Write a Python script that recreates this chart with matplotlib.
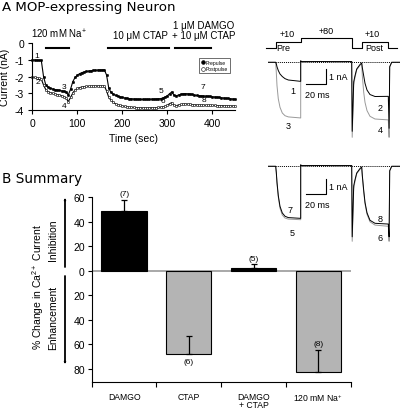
import numpy as np
import matplotlib as mpl
mpl.use("Agg")
import matplotlib.pyplot as plt

plt.rcParams["font.family"] = ["Liberation Sans", "DejaVu Sans"]
plt.rcParams["mathtext.fontset"] = "custom"
plt.rcParams["mathtext.rm"] = "Liberation Sans"
plt.rcParams["mathtext.it"] = "Liberation Sans"
plt.rcParams["mathtext.default"] = "regular"
plt.rcParams["axes.unicode_minus"] = False

# ---------------- data: panel A time course (every 5 s) ----------------
time_s = np.arange(0, 451, 5)
prepulse = [
    -1.00, -1.00, -1.01, -1.02, -1.03, -2.00, -2.50, -2.62, -2.70, -2.74,
    -2.78, -2.80, -2.83, -2.85, -2.88, -2.92, -3.10, -2.75, -2.30, -2.05,
    -1.92, -1.82, -1.76, -1.72, -1.69, -1.67, -1.65, -1.63, -1.62, -1.61,
    -1.60, -1.60, -1.59, -1.90, -2.70, -2.95, -3.05, -3.12, -3.17, -3.21,
    -3.25, -3.28, -3.30, -3.32, -3.33, -3.34, -3.35, -3.36, -3.36, -3.36,
    -3.36, -3.36, -3.36, -3.35, -3.35, -3.34, -3.33, -3.32, -3.28, -3.22,
    -3.15, -3.02, -2.92, -3.12, -3.15, -3.10, -3.06, -3.03, -3.02, -3.03,
    -3.04, -3.07, -3.11, -3.13, -3.14, -3.15, -3.16, -3.17, -3.18, -3.19,
    -3.21, -3.22, -3.23, -3.25, -3.27, -3.28, -3.30, -3.31, -3.33, -3.34,
    -3.35]
postpulse = [
    -2.04, -2.05, -2.08, -2.11, -2.15, -2.50, -2.78, -2.90, -2.96, -3.00,
    -3.04, -3.08, -3.11, -3.15, -3.20, -3.28, -3.50, -3.25, -2.98, -2.80,
    -2.71, -2.66, -2.62, -2.60, -2.59, -2.58, -2.57, -2.57, -2.56, -2.56,
    -2.56, -2.56, -2.56, -2.85, -3.25, -3.42, -3.55, -3.63, -3.69, -3.73,
    -3.76, -3.79, -3.81, -3.83, -3.84, -3.85, -3.86, -3.87, -3.87, -3.88,
    -3.88, -3.88, -3.88, -3.87, -3.87, -3.86, -3.85, -3.84, -3.81, -3.77,
    -3.72, -3.62, -3.56, -3.72, -3.74, -3.70, -3.67, -3.65, -3.64, -3.65,
    -3.66, -3.68, -3.69, -3.70, -3.70, -3.71, -3.71, -3.72, -3.72, -3.72,
    -3.73, -3.73, -3.74, -3.74, -3.74, -3.75, -3.75, -3.75, -3.76, -3.76,
    -3.76]

# drug application bars (sec)
drug_labels = ["120 mM Na$^{+}$", "10 μM CTAP", "1 μM DAMGO\n+ 10 μM CTAP"]
drug_start = [30, 168, 318]
drug_end = [82, 304, 397]
drug_text_x = [60, 240, 380]

# point labels on the time course (sec, nA)
tc_lab = ["1", "2", "3", "4", "5", "6", "7", "8"]
tc_lab_t = [10, 12, 70, 70, 287, 290, 380, 381]
tc_lab_i = [-0.75, -2.3, -2.6, -3.75, -2.84, -3.44, -2.6, -3.38]

# ---------------- data: voltage protocol and current traces ----------------
proto_t = [-9.7, 0, 0, 25, 25, 76, 76, 86, 86, 112.6, 112.6, 121]
proto_v = [-80, -80, 10, 10, 80, 80, -80, -80, 10, 10, -80, -80]

tr_t = [-7.7, 0, 0.6, 1.3, 2.6, 4.3, 6.6, 9.3, 12.6, 25, 25, 25.5, 76, 76.5,
        78, 79.3, 81, 84.3, 86, 86.6, 88, 89.3, 91.3, 94.3, 99.3, 112.6,
        113.4, 114, 116, 124.3]
tr1_2 = [0, 0, -0.1, -0.3, -0.55, -0.78, -0.95, -1.09, -1.18, -1.27, 0.1, 0.05,
         0.05, -4.6, -1.3, -0.9, -0.45, -0.15, -0.05, -0.35, -0.9, -1.4, -1.85,
         -2.15, -2.28, -2.27, -4.4, -0.3, 0, 0]
tr3_4 = [0, 0, -0.67, -1.56, -2.44, -3.0, -3.38, -3.56, -3.64, -3.71, 0.1, 0.05,
         0.05, -5.0, -1.5, -1.0, -0.5, -0.2, -0.05, -0.89, -2.0, -2.67, -3.22,
         -3.6, -3.78, -3.84, -5.0, -0.3, 0, 0]
tr7_8 = [0, 0, -0.4, -1.07, -1.96, -2.67, -3.11, -3.33, -3.42, -3.47, 0.1, 0.05,
         0.05, -4.7, -1.3, -0.9, -0.45, -0.15, -0.05, -0.6, -1.6, -2.4, -3.1,
         -3.6, -3.8, -3.85, -4.7, -0.3, 0, 0]
tr5_6 = [0, 0, -0.45, -1.15, -2.05, -2.8, -3.25, -3.45, -3.52, -3.56, 0.1, 0.05,
         0.05, -5.0, -1.5, -1.0, -0.5, -0.2, -0.05, -0.65, -1.7, -2.5, -3.2,
         -3.7, -3.92, -4.0, -5.0, -0.3, 0, 0]

top_lab = ["1", "3", "2", "4"]
top_lab_t = [17.6, 12.6, 104.3, 104.3]
top_lab_i = [-1.89, -4.23, -3.0, -4.45]
bot_lab = ["7", "5", "8", "6"]
bot_lab_t = [14.3, 16, 104.3, 104.3]
bot_lab_i = [-2.85, -4.4, -3.51, -4.78]

# ---------------- data: panel B summary ----------------
groups = ["DAMGO", "CTAP", "DAMGO\n+ CTAP", "120 mM Na$^{+}$"]
change = [48.5, -68, 2, -83]
err = [9, 14.5, 3, 18]
n_cells = ["(7)", "(6)", "(5)", "(8)"]
bar_colors = ["black", "#b4b4b4", "black", "#b4b4b4"]

GRAY = "#9a9a9a"
W, H = 400, 410


def frac(x0, y0, x1, y1):
    """pixel box (top-left origin) -> figure fraction rect"""
    return [x0 / W, 1 - y1 / H, (x1 - x0) / W, (y1 - y0) / H]


fig = plt.figure(figsize=(W / 100, H / 100), dpi=100)

# ---------------- panel B: summary bars (drawn first, under the traces) ----
axb = fig.add_axes(frac(91.7, 198, 350.7, 383))
axb.patch.set_visible(False)
xpos = np.arange(len(groups))
axb.axhline(0, color="#999999", lw=1.2, zorder=1)
axb.bar(xpos, change, width=0.7, color=bar_colors, edgecolor="black",
        linewidth=0.8, zorder=2)
axb.errorbar(xpos, change, yerr=[np.zeros(len(err)), err], fmt="none",
             ecolor="black", elinewidth=0.9, capsize=2.2, capthick=0.9,
             zorder=3)
axb.set_xlim(-0.5, 3.5)
axb.set_ylim(-91, 60)
yt = [60, 40, 20, 0, -20, -40, -60, -80]
axb.set_yticks(yt)
axb.set_yticklabels([str(abs(v)) for v in yt])
axb.set_xticks(np.arange(-0.5, 4, 1.0))
axb.set_xticklabels([])
axb.set_xticks(xpos, groups, minor=True)
axb.tick_params(axis="x", which="minor", length=0, pad=7, labelsize=6.2)
axb.tick_params(axis="x", which="major", length=3.5, width=0.8)
axb.tick_params(axis="y", labelsize=7.5, length=3, width=0.8, pad=2)
for lab in axb.get_xticklabels(minor=True):
    lab.set_linespacing(0.85)
for s in ["top", "right"]:
    axb.spines[s].set_visible(False)
for s in ["left", "bottom"]:
    axb.spines[s].set_linewidth(0.8)

for i, (v, e, nl) in enumerate(zip(change, err, n_cells)):
    if i == 1:
        axb.annotate(nl, (i, v), xytext=(0, -3), textcoords="offset points",
                     ha="center", va="top", fontsize=6)
    else:
        axb.annotate(nl, (i, v + e), xytext=(0, 2), textcoords="offset points",
                     ha="center", va="bottom", fontsize=6)

fig.text(38 / W, 1 - 287 / H, "% Change in Ca$^{2+}$ Current", rotation=90,
         ha="center", va="center", fontsize=7.5)
fig.text(53 / W, 1 - 240 / H, "Inhibition", rotation=90, ha="center",
         va="center", fontsize=7.5)
fig.text(53 / W, 1 - 318 / H, "Enhancement", rotation=90, ha="center",
         va="center", fontsize=7.5)
arrow = dict(arrowstyle="-|>,head_length=0.7,head_width=0.25", color="black",
             lw=1.3, shrinkA=0, shrinkB=0)
fig.add_artist(mpl.patches.FancyArrowPatch((65 / W, 1 - 268 / H),
                                           (65 / W, 1 - 198 / H),
                                           transform=fig.transFigure, **arrow))
fig.add_artist(mpl.patches.FancyArrowPatch((65 / W, 1 - 277 / H),
                                           (65 / W, 1 - 366 / H),
                                           transform=fig.transFigure, **arrow))

# ---------------- panel A: time course ----------------
ax = fig.add_axes(frac(32.3, 44.3, 234.8, 111))
ax.patch.set_visible(False)
ax.plot(time_s, prepulse, color="black", lw=0.8, marker="o", ms=1.7,
        mfc="black", mec="black", mew=0.4, clip_on=False, label="Prepulse")
ax.plot(time_s, postpulse, color="black", lw=0.8, marker="o", ms=1.7,
        mfc="white", mec="black", mew=0.4, clip_on=False, label="Postpulse")
ax.set_xlim(0, 450)
ax.set_ylim(-4, 0)
ax.set_xticks([0, 100, 200, 300, 400])
ax.set_yticks([0, -1, -2, -3, -4])
for s in ["top", "right"]:
    ax.spines[s].set_visible(False)
for s in ["left", "bottom"]:
    ax.spines[s].set_linewidth(0.8)
ax.tick_params(labelsize=7.5, length=3, width=0.8, pad=3)
ax.set_xlabel("Time (sec)", fontsize=7.5, labelpad=3)
ax.set_ylabel("Current (nA)", fontsize=7.5, labelpad=3)
leg = ax.legend(loc="upper right", bbox_to_anchor=(0.99, 0.82), fontsize=3.6,
                frameon=True, fancybox=False, handlelength=0.6,
                handletextpad=0.4, borderpad=0.4, labelspacing=0.3,
                markerscale=1.6)
leg.get_frame().set_edgecolor("black")
leg.get_frame().set_linewidth(0.5)
for h in leg.get_lines():
    h.set_linestyle("none")

for x0, x1 in zip(drug_start, drug_end):
    ax.plot([x0, x1], [-0.3, -0.3], color="black", lw=1.5, clip_on=False)
for lab, xt in zip(drug_labels, drug_text_x):
    ax.text(xt, 0.22, lab, ha="center", va="bottom", fontsize=7,
            linespacing=1.0)
for lab, xt, yi in zip(tc_lab, tc_lab_t, tc_lab_i):
    ax.text(xt, yi, lab, ha="center", va="center", fontsize=6)

fig.text(2 / W, 1 - 11 / H, "A MOP-expressing Neuron", fontsize=9.6,
         va="baseline", ha="left", family="DejaVu Sans")
fig.text(2 / W, 1 - 183 / H, "B Summary", fontsize=9.8, va="baseline",
         ha="left", family="DejaVu Sans")

# ---------------- voltage protocol ----------------
def fwd(v):
    return np.interp(v, [-80, 10, 80], [0, 6.6, 10])


def inv(p):
    return np.interp(p, [0, 6.6, 10], [-80, 10, 80])


axp = fig.add_axes(frac(267.7, 39.3, 400, 49.3))
axp.set_yscale("function", functions=(fwd, inv))
axp.plot(proto_t, proto_v, color="black", lw=0.8, clip_on=False)
axp.set_xlim(-8, 124.3)
axp.set_ylim(-80, 80)
axp.axis("off")
kw = dict(textcoords="offset points", fontsize=6.5)
axp.annotate("+10", (11, 10), xytext=(0, 2.5), ha="center", va="bottom", **kw)
axp.annotate("+80", (50, 80), xytext=(0, 2.5), ha="center", va="bottom", **kw)
axp.annotate("+10", (96, 10), xytext=(0, 2.5), ha="center", va="bottom", **kw)
axp.annotate("Pre", (8, 10), xytext=(0, -1.2), ha="center", va="top", **kw)
axp.annotate("Post", (98.5, 10), xytext=(0, -1.2), ha="center", va="top", **kw)
axp.annotate("-80", (-9.7, -80), xytext=(-3, 0), ha="right", va="center", **kw)

# ---------------- current traces ----------------
def trace_axes(box, ylim, gray, black, labs, labt, labi, bar_i):
    a = fig.add_axes(frac(*box))
    a.patch.set_visible(False)
    a.plot([-7.7, 124.3], [0, 0], color="black", lw=0.7, ls=(0, (1, 1)))
    a.plot(tr_t, gray, color=GRAY, lw=0.7)
    a.plot(tr_t, black, color="black", lw=0.7)
    a.set_xlim(-8, 124.3)
    a.set_ylim(*ylim)
    a.axis("off")
    # scale bar 20 ms / 1 nA
    a.plot([30, 50, 50], [bar_i, bar_i, bar_i + 1], color="black", lw=0.8)
    a.text(53, bar_i + 0.5, "1 nA", fontsize=6.5, va="center", ha="left")
    a.text(29, bar_i - 0.68, "20 ms", fontsize=6.5, va="center", ha="left")
    for lab, xt, yi in zip(labs, labt, labi):
        a.text(xt, yi, lab, fontsize=6.5, ha="center", va="center")
    return a


trace_axes((267.7, 58, 400, 140), (-5.113, 0.353), tr3_4, tr1_2,
           top_lab, top_lab_t, top_lab_i, -1.45)
trace_axes((267.7, 162, 400, 245), (-5.18, 0.353), tr5_6, tr7_8,
           bot_lab, bot_lab_t, bot_lab_i, -1.85)

fig.savefig("out.png", dpi=100)
